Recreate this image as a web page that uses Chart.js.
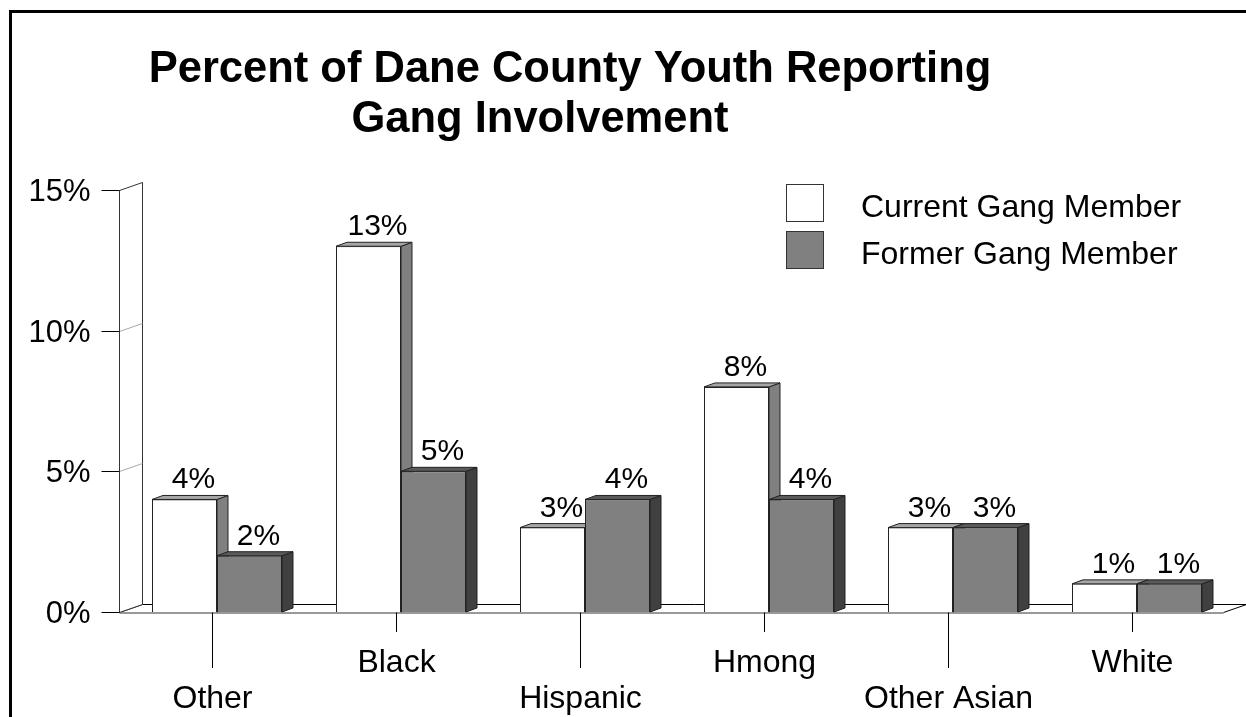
<!DOCTYPE html>
<html>
<head>
<meta charset="utf-8">
<script src="https://cdn.jsdelivr.net/npm/chart.js@4/dist/chart.umd.min.js"></script>
<style>
  html, body { margin: 0; padding: 0; background: #fff; }
  #wrap { width: 1246px; height: 717px; position: relative; }
</style>
</head>
<body>
<div id="wrap"><canvas id="gang"></canvas></div>
<script>
// data
const categories = ['Other', 'Black', 'Hispanic', 'Hmong', 'Other Asian', 'White'];
const currentMember = [4, 13, 3, 8, 3, 1];
const formerMember = [2, 5, 4, 4, 3, 1];
const seriesNames = ['Current Gang Member', 'Former Gang Member'];
const yTicks = [0, 5, 10, 15];
const titleLines = ['Percent of Dane County Youth Reporting', 'Gang Involvement'];

const FONT = "'Liberation Sans', Arial, sans-serif";
const WALL = { dx: 23, dy: -8, shift: 6 };   // side wall / floor depth
const BAR = { dx: 11, dy: -4 };              // bar depth
const STYLE = [
    { front: '#ffffff', side: '#808080', top: '#a6a6a6' },
    { front: '#808080', side: '#404040', top: '#5a5a5a' },
];

function poly(ctx, pts, fill, stroke) {
    ctx.beginPath();
    ctx.moveTo(pts[0][0], pts[0][1]);
    for (let i = 1; i < pts.length; i++) ctx.lineTo(pts[i][0], pts[i][1]);
    ctx.closePath();
    if (fill) { ctx.fillStyle = fill; ctx.fill(); }
    if (stroke) { ctx.strokeStyle = stroke; ctx.stroke(); }
}

// frame, title, wall, floor and the hidden faces of the bars
const backdrop = {
    id: 'backdrop',
    beforeDatasetsDraw(chart) {
        const ctx = chart.ctx;
        const area = chart.chartArea;
        const y = chart.scales.y;
        ctx.save();

        // outer frame (open at right and bottom)
        ctx.lineWidth = 3;
        ctx.strokeStyle = '#000';
        ctx.beginPath();
        ctx.moveTo(10.5, 717);
        ctx.lineTo(10.5, 11.5);
        ctx.lineTo(1246, 11.5);
        ctx.stroke();

        // title
        ctx.fillStyle = '#000';
        ctx.font = 'bold 43.5px ' + FONT;
        ctx.textAlign = 'center';
        ctx.textBaseline = 'alphabetic';
        ctx.fillText(titleLines[0], 570, 82);
        ctx.fillText(titleLines[1], 540, 132);

        const ax = area.left - WALL.shift + 0.5;
        const y0 = Math.round(y.getPixelForValue(0)) + 0.5;
        const yTop = Math.round(y.getPixelForValue(15)) + 0.5;
        const fx = area.right - WALL.shift + 0.5;

        // floor
        ctx.lineWidth = 1;
        poly(ctx, [[ax, y0], [ax + WALL.dx, y0 + WALL.dy], [1246, y0 + WALL.dy], [fx + WALL.dx, y0 + WALL.dy], [fx, y0]], '#fff', '#000');
        ctx.strokeStyle = '#999';
        ctx.lineWidth = 2;
        ctx.beginPath();
        ctx.moveTo(ax, y0 + 0.5);
        ctx.lineTo(fx, y0 + 0.5);
        ctx.stroke();

        // side wall
        ctx.lineWidth = 1;
        poly(ctx, [[ax, y0], [ax, yTop], [ax + WALL.dx, yTop + WALL.dy], [ax + WALL.dx, y0 + WALL.dy]], '#fff', '#333');
        ctx.strokeStyle = '#aaa';
        yTicks.forEach(v => {
            if (v === 0 || v === 15) return;
            const py = Math.round(y.getPixelForValue(v)) + 0.5;
            ctx.beginPath();
            ctx.moveTo(ax, py);
            ctx.lineTo(ax + WALL.dx, py + WALL.dy);
            ctx.stroke();
        });

        // y ticks and labels
        ctx.strokeStyle = '#000';
        ctx.fillStyle = '#000';
        ctx.font = '31px ' + FONT;
        ctx.textAlign = 'right';
        ctx.textBaseline = 'middle';
        yTicks.forEach(v => {
            const py = Math.round(y.getPixelForValue(v)) + 0.5;
            ctx.beginPath();
            ctx.moveTo(ax - 18, py);
            ctx.lineTo(ax, py);
            ctx.stroke();
            ctx.fillText(v + '%', ax - 29, py + 2);
        });

        // side and top faces of bars (fronts are drawn by Chart.js over them)
        ctx.lineWidth = 1;
        chart.data.datasets.forEach((ds, di) => {
            chart.getDatasetMeta(di).data.forEach(bar => {
                const l = bar.x - bar.width / 2, r = bar.x + bar.width / 2;
                const t = bar.y, b = bar.base;
                poly(ctx, [[r, t], [r + BAR.dx, t + BAR.dy], [r + BAR.dx, b + BAR.dy], [r, b]], STYLE[di].side, '#222');
                poly(ctx, [[l, t], [l + BAR.dx, t + BAR.dy], [r + BAR.dx, t + BAR.dy], [r, t]], STYLE[di].top, '#222');
            });
        });
        ctx.restore();
    },
    afterDatasetsDraw(chart) {
        const ctx = chart.ctx;
        const x = chart.scales.x;
        const y0 = Math.round(chart.scales.y.getPixelForValue(0)) + 0.5;
        ctx.save();
        ctx.fillStyle = '#000';
        ctx.font = '30px ' + FONT;
        ctx.textAlign = 'center';
        ctx.textBaseline = 'alphabetic';

        // value labels
        chart.data.datasets.forEach((ds, di) => {
            chart.getDatasetMeta(di).data.forEach((bar, i) => {
                ctx.fillText(ds.data[i] + '%', bar.x + 9, bar.y - 11);
            });
        });

        // category ticks and staggered labels
        ctx.font = '32px ' + FONT;
        ctx.strokeStyle = '#000';
        ctx.lineWidth = 1;
        categories.forEach((c, i) => {
            const px = Math.round(x.getPixelForValue(i) - 5.5) + 0.5;
            const low = i % 2 === 0;
            ctx.beginPath();
            ctx.moveTo(px, y0);
            ctx.lineTo(px, low ? 668 : 632);
            ctx.stroke();
            ctx.fillText(c, px, low ? 708 : 672);
        });

        // legend
        ctx.textAlign = 'left';
        chart.data.datasets.forEach((ds, di) => {
            const by = 184.5 + di * 47;
            ctx.fillStyle = STYLE[di].front;
            ctx.fillRect(786.5, by, 37, 37);
            ctx.strokeStyle = '#333';
            ctx.strokeRect(786.5, by, 37, 37);
            ctx.fillStyle = '#000';
            ctx.fillText(ds.label, 861, by + 32);
        });
        ctx.restore();
    }
};

new Chart(document.getElementById('gang'), {
    type: 'bar',
    data: {
        labels: categories,
        datasets: [
            {
                label: seriesNames[0],
                data: currentMember,
                backgroundColor: STYLE[0].front,
                borderColor: '#222',
                borderWidth: 1,
            },
            {
                label: seriesNames[1],
                data: formerMember,
                backgroundColor: STYLE[1].front,
                borderColor: '#222',
                borderWidth: 1,
            },
        ],
    },
    options: {
        responsive: true,
        maintainAspectRatio: false,
        animation: false,
        layout: { padding: { left: 125, right: 17, top: 190, bottom: 105 } },
        datasets: { bar: { categoryPercentage: 130 / 184, barPercentage: 1 } },
        plugins: {
            legend: { display: false },
            title: { display: false },
            tooltip: { enabled: false },
        },
        scales: {
            x: { display: false },
            y: { display: false, min: 0, max: 15, ticks: { stepSize: 5 } },
        },
    },
    plugins: [backdrop],
});
</script>
</body>
</html>
